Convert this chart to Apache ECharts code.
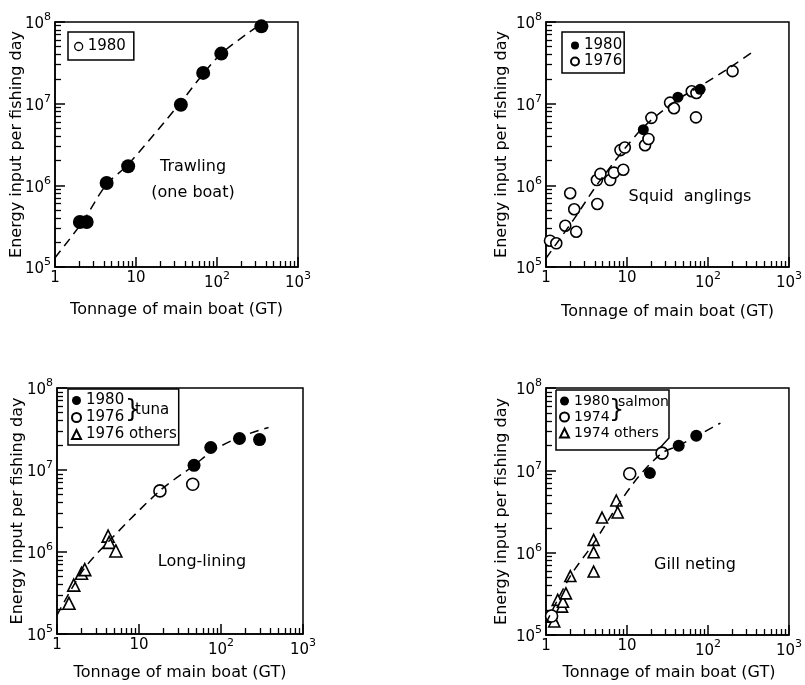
<!DOCTYPE html>
<html>
<head>
<meta charset="utf-8">
<script src="https://cdn.jsdelivr.net/npm/echarts@6/dist/echarts.min.js"></script>
<style>
  html, body { margin: 0; background: #fff; }
  .c { position: absolute; left: 0; top: 0; width: 805px; height: 685px; }
</style>
</head>
<body>
<div class="c" id="frame"></div>
<div class="c" id="chart"></div>
<script>
// ---- data ----
const xRange = [1, 1000]
const yRange = [1e5, 1e8]

// trawling (one boat)
const trawl1980 = [[2.03, 3.56e5], [2.46, 3.56e5], [4.34, 1.07e6], [8.0, 1.71e6], [35.8, 9.7e6], [67.5, 2.38e7], [113, 4.1e7], [353, 8.85e7]]
const trawlCurve = [[1, 1.3e5], [2.2, 3.6e5], [4.3, 1.02e6], [8, 1.8e6], [36, 1.05e7], [67, 2.3e7], [113, 4.1e7], [250, 7.5e7], [380, 1e8]]

// squid anglings
const squid1980 = [[15.9, 4.8e6], [42.5, 1.2e7], [80, 1.5e7]]
const squid1976 = [[1.12, 2.1e5], [1.34, 1.95e5], [1.73, 3.2e5], [2.36, 2.7e5], [1.99, 8e5], [2.23, 5.1e5],
  [4.3, 5.9e5], [4.25, 1.16e6], [4.7, 1.38e6], [6.2, 1.16e6], [6.9, 1.43e6], [9.0, 1.55e6], [8.3, 2.7e6],
  [9.4, 2.9e6], [16.7, 3.1e6], [18.4, 3.7e6], [20, 6.7e6], [34, 1.03e7], [38, 8.8e6], [63, 1.42e7],
  [72, 1.35e7], [71, 6.8e6], [201, 2.5e7]]
const squidCurve = [[1, 1.28e5], [2.19, 3.8e5], [4.67, 1.15e6], [15.2, 4.9e6], [41, 1.1e7], [83, 1.67e7], [204, 2.94e7], [378, 4.5e7]]

// long-lining
const long1980 = [[46.9, 1.14e7], [75, 1.88e7], [168, 2.42e7], [295, 2.35e7]]
const long1976 = [[18, 5.56e6], [45.2, 6.7e6]]
const long1976others = [[1.4, 2.37e5], [1.6, 3.95e5], [1.99, 5.5e5], [2.18, 6.1e5], [4.2, 1.56e6], [4.32, 1.31e6], [5.22, 1.03e6]]
const longCurve = [[1, 1.7e5], [2.08, 6e5], [4.4, 1.39e6], [18, 5.6e6], [47, 1.14e7], [81, 1.74e7], [171, 2.53e7], [380, 3.3e7]]

// gill neting
const gill1980 = [[18.5, 9.25e6], [41.5, 1.99e7], [68, 2.63e7]]
const gill1974 = [[1.17, 1.7e5], [10.5, 9.1e6], [26, 1.62e7]]
const gill1974others = [[1.18, 1.67e5], [1.26, 1.46e5], [1.39, 2.67e5], [1.57, 2.21e5], [1.61, 2.53e5], [1.75, 3.2e5],
  [1.98, 5.2e5], [3.81, 1.43e6], [3.81, 1.01e6], [3.81, 5.9e5], [4.82, 2.67e6], [7.2, 4.3e6], [7.48, 3.08e6]]
const gillCurve = [[1, 1.39e5], [1.98, 5.2e5], [3.81, 1.3e6], [7.3, 3.6e6], [13.5, 8.4e6], [26, 1.62e7], [41.5, 2.0e7], [134, 3.75e7]]

const FONT = 'DejaVu Sans'
const xName = 'Tonnage of main boat (GT)'
const yName = 'Energy input per fishing day'

const grids = [
  { left: 55, top: 22, width: 243, height: 245 },
  { left: 546, top: 22, width: 243, height: 245 },
  { left: 57, top: 388, width: 246, height: 246 },
  { left: 546, top: 388, width: 246, height: 247 },
]
const xGaps = [35, 37, 31, 30]
const yGaps = [30, 36, 31, 36]

const black = { color: '#000', width: 1.5 }
const rich = {
  b: { fontSize: 15, fontFamily: FONT, color: '#000', verticalAlign: 'bottom' },
  sup: { fontSize: 11, fontFamily: FONT, color: '#000', verticalAlign: 'top', padding: [0, 0, 9, 0] },
}

function powLabel(v) {
  const e = Math.round(Math.log10(v))
  if (e === 0) return '{b|1}'
  if (e === 1) return '{b|10}'
  return '{b|10}{sup|' + e + '}'
}

// frame layer: box, axis lines, major/minor ticks and tick labels
function frameAxis(isX, i) {
  return {
    gridIndex: i, type: 'log', logBase: 10,
    min: isX ? xRange[0] : yRange[0], max: isX ? xRange[1] : yRange[1],
    position: isX ? 'bottom' : 'left',
    axisLine: { show: true, lineStyle: { ...black } },
    axisTick: { show: true, inside: true, length: 10, lineStyle: { ...black } },
    minorTick: { show: true, splitNumber: 9, length: 6, lineStyle: { color: '#000', width: 1.3 } },
    axisLabel: { formatter: powLabel, margin: 4, rich },
    splitLine: { show: false }, minorSplitLine: { show: false },
  }
}

// data layer: same scales, only the axis names visible
function dataAxis(isX, i) {
  return {
    gridIndex: i, type: 'log', logBase: 10,
    min: isX ? xRange[0] : yRange[0], max: isX ? xRange[1] : yRange[1],
    position: isX ? 'bottom' : 'left',
    axisLine: { show: false }, axisTick: { show: false }, axisLabel: { show: false },
    splitLine: { show: false },
    name: isX ? xName : yName,
    nameLocation: 'middle',
    nameGap: isX ? xGaps[i] : yGaps[i],
    nameTextStyle: { fontSize: 16, color: '#000', fontFamily: FONT },
  }
}

function dots(name, data, i, symbol, size, filled) {
  return {
    name, type: 'scatter', data, xAxisIndex: i, yAxisIndex: i,
    symbol, symbolSize: size,
    itemStyle: filled
      ? { color: '#000', opacity: 1 }
      : { color: '#fff', borderColor: '#000', borderWidth: 1.6, opacity: 1 },
  }
}
function curve(name, data, i) {
  return {
    name, type: 'line', data, xAxisIndex: i, yAxisIndex: i,
    smooth: 0.3, showSymbol: false, symbol: 'none',
    lineStyle: { color: '#000', width: 1.5, type: [9, 6] },
  }
}

const legendText = { fontSize: 15, fontFamily: FONT, color: '#000' }
const txt = (x, y, text, size, align) => ({
  type: 'text', x, y,
  style: { text, font: size + 'px "DejaVu Sans"', fill: '#000', align: align || 'center', verticalAlign: 'middle' },
})

const frame = echarts.init(document.getElementById('frame'))
frame.setOption({
  animation: false,
  backgroundColor: '#fff',
  grid: grids.map(g => ({ ...g, show: true, borderColor: '#000', borderWidth: 1.5 })),
  xAxis: [0, 1, 2, 3].map(i => frameAxis(true, i)),
  yAxis: [0, 1, 2, 3].map(i => frameAxis(false, i)),
  series: [0, 1, 2, 3].map(i => ({ type: 'scatter', xAxisIndex: i, yAxisIndex: i, data: [] })),
})

const chart = echarts.init(document.getElementById('chart'))
chart.setOption({
  animation: false,
  backgroundColor: 'transparent',
  textStyle: { fontFamily: FONT },
  grid: grids.map(g => ({ ...g, show: false })),
  xAxis: [0, 1, 2, 3].map(i => dataAxis(true, i)),
  yAxis: [0, 1, 2, 3].map(i => dataAxis(false, i)),
  legend: [
    { orient: 'vertical', selectedMode: false, left: 68, top: 32, padding: [7, 8, 6, 6], itemGap: 2,
      itemWidth: 8, itemHeight: 8, textStyle: legendText, borderColor: '#000', borderWidth: 1.5,
      data: [{ name: '1980', icon: 'circle', itemStyle: { color: '#fff', borderColor: '#000', borderWidth: 1.3 } }] },
    { orient: 'vertical', selectedMode: false, left: 562, top: 32, padding: [6, 2, 4, 8], itemGap: 1,
      itemWidth: 8, itemHeight: 8, textStyle: legendText, borderColor: '#000', borderWidth: 1.5,
      data: ['1980', '1976'] },
    { orient: 'vertical', selectedMode: false, left: 68, top: 389, padding: [4, 2, 3, 3], itemGap: 2,
      itemWidth: 9, itemHeight: 9, textStyle: legendText, borderColor: '#000', borderWidth: 1.5,
      data: ['1980', '1976', '1976 others'] },
    { orient: 'vertical', selectedMode: false, left: 556, top: 390, padding: [4, 2, 3, 3], itemGap: 2,
      itemWidth: 9, itemHeight: 9, textStyle: { fontSize: 14, fontFamily: FONT, color: '#000' },
      data: ['1980', '1974', '1974 others'] },
  ],
  graphic: [
    txt(193, 167, 'Trawling', 16),
    txt(193, 193, '(one boat)', 16),
    txt(690, 197, 'Squid  anglings', 16),
    txt(202, 562, 'Long-lining', 16),
    txt(695, 565, 'Gill neting', 16),
    txt(125, 411, '}', 24, 'left'),
    txt(135, 410, 'tuna', 15, 'left'),
    txt(609, 411, '}', 24, 'left'),
    txt(618, 402, 'salmon', 14, 'left'),
    { type: 'polyline', shape: { points: [[556, 390], [669, 390], [669, 438], [658, 450], [556, 450], [556, 390]] },
      style: { stroke: '#000', lineWidth: 1.5, fill: null } },
  ],
  series: [
    curve('c1', trawlCurve, 0),
    dots('1980', trawl1980, 0, 'circle', 14, true),

    curve('c2', squidCurve, 1),
    dots('1976', squid1976, 1, 'circle', 11, false),
    dots('1980', squid1980, 1, 'circle', 11, true),

    curve('c3', longCurve, 2),
    dots('1976 others', long1976others, 2, 'triangle', 12, false),
    dots('1976', long1976, 2, 'circle', 12, false),
    dots('1980', long1980, 2, 'circle', 13, true),

    curve('c4', gillCurve, 3),
    dots('1974 others', gill1974others, 3, 'triangle', 11, false),
    dots('1974', gill1974, 3, 'circle', 12, false),
    dots('1980', gill1980, 3, 'circle', 12, true),
  ],
})
</script>
</body>
</html>
